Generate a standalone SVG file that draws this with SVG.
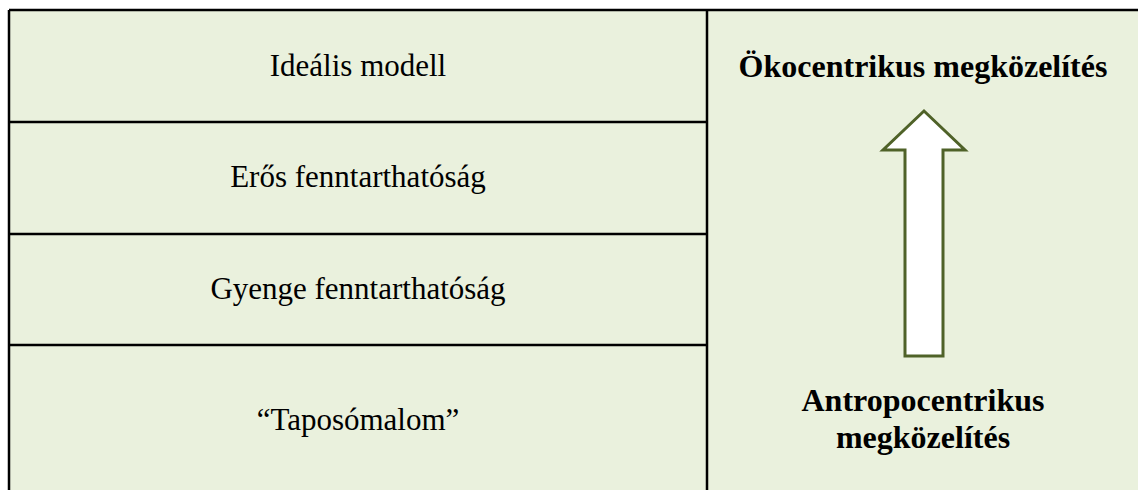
<svg xmlns="http://www.w3.org/2000/svg" width="1138" height="490" viewBox="0 0 1138 490">
<style>
.cell{fill:#EAF1DD;stroke:none}
.ln{stroke:#000;stroke-width:2.5;fill:none}
.t{font-family:"Liberation Serif","Times New Roman",serif;font-size:31px;fill:#000;text-anchor:middle}
.b{font-weight:bold;font-size:32px}
.arrow{fill:#fff;stroke:#4F6228;stroke-width:3}
</style>
<rect class="cell" x="9" y="10" width="1129" height="480"/>
<g id="row-idealis"><text class="t" x="358" y="76">Ideális modell</text></g>
<g id="row-eros"><text class="t" x="358" y="187">Erős fenntarthatóság</text></g>
<g id="row-gyenge"><text class="t" x="358" y="299">Gyenge fenntarthatóság</text></g>
<g id="row-taposo"><text class="t" x="358" y="430">“Taposómalom”</text></g>
<g id="label-oko"><text class="t b" x="923" y="77">Ökocentrikus megközelítés</text></g>
<g id="label-antropo"><text class="t b" x="923" y="411">Antropocentrikus</text><text class="t b" x="923" y="448">megközelítés</text></g>
<g id="connectors">
<path class="arrow" d="M924,111 L965,150 L943,150 L943,356 L905,356 L905,150 L883,150 Z"/>
</g>
<g id="grid">
<path class="ln" d="M9,10 H1138 M9,10 V490 M707,10 V490 M9,122 H707 M9,234 H707 M9,345 H707"/>
</g>
</svg>
